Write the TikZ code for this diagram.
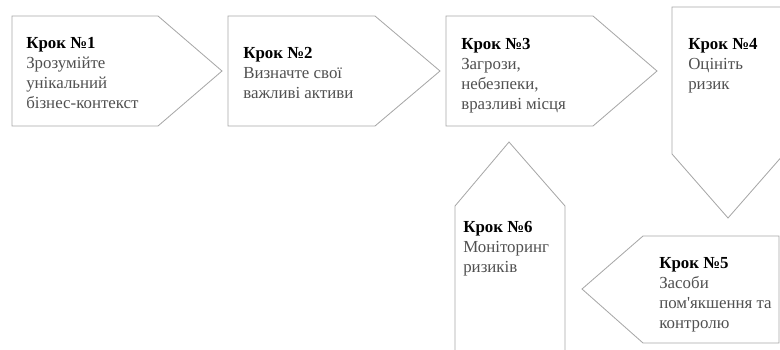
\documentclass[tikz,border=0pt]{standalone}
\usepackage{fontspec}
\setmainfont{Liberation Serif}[Ligatures=TeXOff]
\definecolor{edgegray}{HTML}{A8A8A8}
\definecolor{bodygray}{HTML}{505050}
\tikzset{
  stepline/.style={draw=edgegray, line width=0.6pt, line join=miter},
  steptext/.style={anchor=north west, inner sep=0pt,
    text=bodygray, font=\fontsize{12}{14.2}\selectfont},
}
\newcommand{\stephead}[1]{\textcolor{black}{\textbf{Крок №#1}}}
\newcommand{\steplines}[1]{\begin{tabular}[t]{@{}l@{}}#1\end{tabular}}
\begin{document}
\begin{tikzpicture}[x=0.025cm, y=-0.025cm]
      \useasboundingbox (0,0) rectangle (780,349);
      % outlines
      \begin{scope}
        \clip (0,0) rectangle (780,349);
        \draw[stepline] (12,16) -- (158,16) -- (222,71) -- (158,126) -- (12,126) -- cycle;
        \draw[stepline] (228,16) -- (375,16) -- (440,71) -- (375,126) -- (228,126) -- cycle;
        \draw[stepline] (446,16) -- (593,16) -- (657,71) -- (593,126) -- (446,126) -- cycle;
        \draw[stepline] (672,7) -- (784,7) -- (784,154) -- (728,218) -- (672,154) -- cycle;
        \draw[stepline] (643,236) -- (779,236) -- (779,343) -- (643,343) -- (582,289) -- cycle;
        \draw[stepline] (509,142) -- (565,206) -- (565,360) -- (455,360) -- (455,206) -- cycle;
      \end{scope}
      % texts
      \draw
        (26,34) node[steptext] (s1){\steplines{\stephead{1}\\Зрозумійте\\унікальний\\бізнес-контекст}}
        (243,44) node[steptext] (s2){\steplines{\stephead{2}\\Визначте свої\\важливі активи}}
        (461,35) node[steptext] (s3){\steplines{\stephead{3}\\Загрози,\\небезпеки,\\вразливі місця}}
        (688,35) node[steptext] (s4){\steplines{\stephead{4}\\Оцініть\\ризик}}
        (659,254) node[steptext] (s5){\steplines{\stephead{5}\\Засоби\\пом'якшення та\\контролю}}
        (463,218) node[steptext] (s6){\steplines{\stephead{6}\\Моніторинг\\ризиків}};
    \end{tikzpicture}
\end{document}
